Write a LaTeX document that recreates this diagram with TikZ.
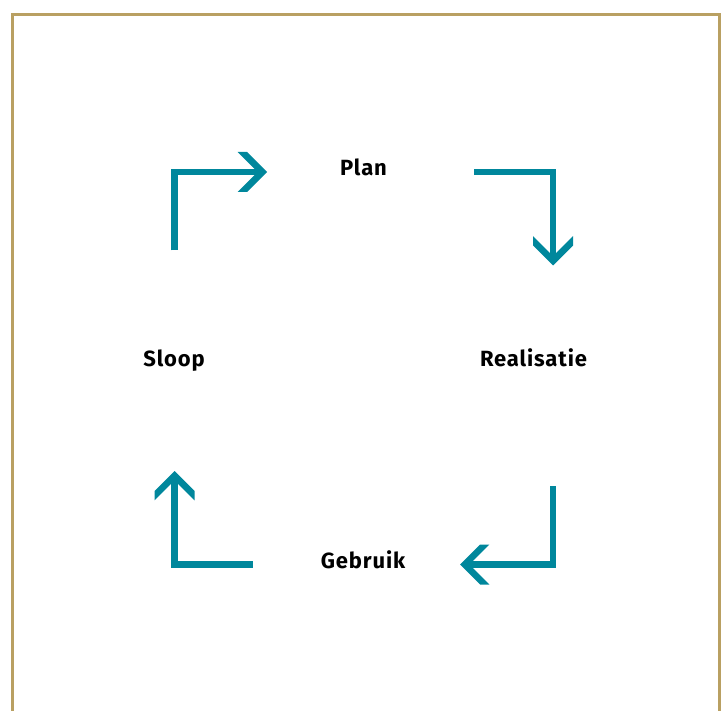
\documentclass[tikz,border=0pt]{standalone}
\usepackage{fontspec}
\setmainfont{Fira Sans}
\newfontfamily\stagefont[LetterSpace=4]{Fira Sans}
\usetikzlibrary{calc}
\definecolor{cycleteal}{HTML}{00879C}
\definecolor{framegold}{HTML}{B9A062}
\tikzset{
  stem/.style={draw=cycleteal, line width=6.6pt, line cap=butt, line join=miter},
  stagelabel/.style={font=\stagefont\bfseries\fontsize{22}{26}\selectfont, anchor=base, inner sep=0pt},
  chev/.pic={
    \fill[cycleteal] (0,0) -- (-20,20) -- (-29.3,20) -- (-9.3,0)
                     -- (-29.3,-20) -- (-20,-20) -- cycle;
  }
}
\begin{document}
\begin{tikzpicture}[x=1pt,y=-1pt]
  \useasboundingbox (0,0) rectangle (726,711);
  % frame, open at the bottom
  \draw[framegold, line width=3pt, line join=miter]
    (12.5,720) -- (12.5,15) -- (719.5,15) -- (719.5,720);

  % stage labels
  \node[stagelabel] (plan)   at (363.5,176)   {Plan};
  \node[stagelabel] (real)   at (533.5,367)   {Realisatie};
  \node[stagelabel] (gebr)   at (363,568)     {Gebruik};
  \node[stagelabel] (sloop)  at (174,367)     {Sloop};

  % arrow geometry: start, tip
  \coordinate (s1) at (174.5,250.5);  \coordinate (t1) at (267,172);
  \coordinate (s2) at (474,172);      \coordinate (t2) at (553,265.5);
  \coordinate (s3) at (553,486);      \coordinate (t3) at (460,564.5);
  \coordinate (s4) at (252.5,564.5);  \coordinate (t4) at (174.5,471);

  % Sloop -> Plan
  \draw[stem] (s1) |- ($(t1)+(-6,0)$);
  \pic at (t1) {chev};
  % Plan -> Realisatie
  \draw[stem] (s2) -| ($(t2)+(0,-6)$);
  \pic[rotate=-90] at (t2) {chev};
  % Realisatie -> Gebruik
  \draw[stem] (s3) |- ($(t3)+(6,0)$);
  \pic[rotate=180] at (t3) {chev};
  % Gebruik -> Sloop
  \draw[stem] (s4) -| ($(t4)+(0,6)$);
  \pic[rotate=90] at (t4) {chev};
\end{tikzpicture}
\end{document}
